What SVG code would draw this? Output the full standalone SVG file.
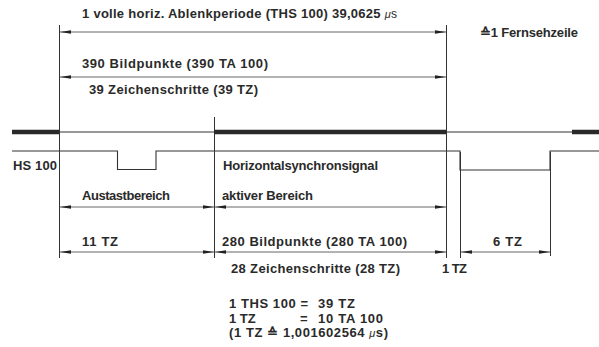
<svg xmlns="http://www.w3.org/2000/svg" width="599" height="347" viewBox="0 0 599 347">
<style>
text{font-family:"Liberation Sans",Arial,sans-serif;font-size:13px;font-weight:bold;fill:#2a2a2a}
.v{stroke:#333;stroke-width:1;fill:none}
.a{stroke:#555;stroke-width:0.9;fill:none;marker-start:url(#ah);marker-end:url(#ah)}
.thick{stroke:#2a2a2a;stroke-width:4.5;fill:none}
.thin{stroke:#333;stroke-width:1.1;fill:none}
.mu{font-size:11px;font-weight:normal;font-style:italic}
</style>
<defs>
<marker id="ah" markerUnits="userSpaceOnUse" markerWidth="12" markerHeight="6" refX="11" refY="2.5" orient="auto-start-reverse">
<path d="M0,0.8 L11,2.5 L0,4.2 z" fill="#222"/>
</marker>
</defs>
<rect width="599" height="347" fill="#fff"/>
<g id="connectors">
<path class="v" d="M59.5,25 V258 M214.5,117 V258 M446.5,25 V258 M460.5,152 V258 M550.5,152 V256"/>
<path class="a" d="M60,32 H446"/>
<path class="a" d="M60,77 H446"/>
<path class="a" d="M60,207 H214"/>
<path class="a" d="M215,207 H446"/>
<path class="a" d="M60,252 H214"/>
<path class="a" d="M215,252 H446"/>
<path class="a" d="M461,252 H550"/>
</g>
<g id="signal-lines">
<path class="thick" d="M12,132 H59 M214,132 H446 M572,132 H599"/>
<path class="thin" d="M59,132 H214 M446,132 H572"/>
<path class="thin" d="M12,151 H117.5 V169.5 H156 V151 H460 V170 H550 V151 H599"/>
</g>
<g id="labels">
<text x="82" y="18" textLength="315" lengthAdjust="spacing">1 volle horiz. Ablenkperiode (THS 100) 39,0625 <tspan class="mu">μ</tspan><tspan font-weight="normal" font-size="12">s</tspan></text>
<text x="480" y="37" textLength="98" lengthAdjust="spacing">≙1 Fernsehzeile</text>
<text x="82" y="68" textLength="186" lengthAdjust="spacing">390 Bildpunkte  (390 TA 100)</text>
<text x="89" y="94" textLength="169" lengthAdjust="spacing">39 Zeichenschritte  (39 TZ)</text>
<text x="13" y="170" textLength="44" lengthAdjust="spacing">HS 100</text>
<text x="223" y="170" textLength="155" lengthAdjust="spacing">Horizontalsynchronsignal</text>
<text x="82" y="200" textLength="88" lengthAdjust="spacing">Austastbereich</text>
<text x="222" y="200" textLength="91" lengthAdjust="spacing">aktiver Bereich</text>
<text x="82" y="246" textLength="36" lengthAdjust="spacing">11 TZ</text>
<text x="222" y="246" textLength="185" lengthAdjust="spacing">280 Bildpunkte (280 TA 100)</text>
<text x="493" y="246" textLength="29" lengthAdjust="spacing">6 TZ</text>
<text x="231" y="273" textLength="169" lengthAdjust="spacing">28 Zeichenschritte  (28 TZ)</text>
<text x="442" y="273" textLength="25" lengthAdjust="spacing">1 TZ</text>
<text x="229" y="308" textLength="79" lengthAdjust="spacing">1 THS 100 =</text>
<text x="318" y="308" textLength="37" lengthAdjust="spacing">39 TZ</text>
<text x="229" y="323">1 TZ</text>
<text x="300" y="323">=</text>
<text x="318" y="323" textLength="65" lengthAdjust="spacing">10 TA 100</text>
<text x="229" y="337" textLength="159" lengthAdjust="spacing">(1 TZ ≙ 1,001602564 <tspan class="mu">μ</tspan><tspan>s)</tspan></text>
</g>
</svg>
